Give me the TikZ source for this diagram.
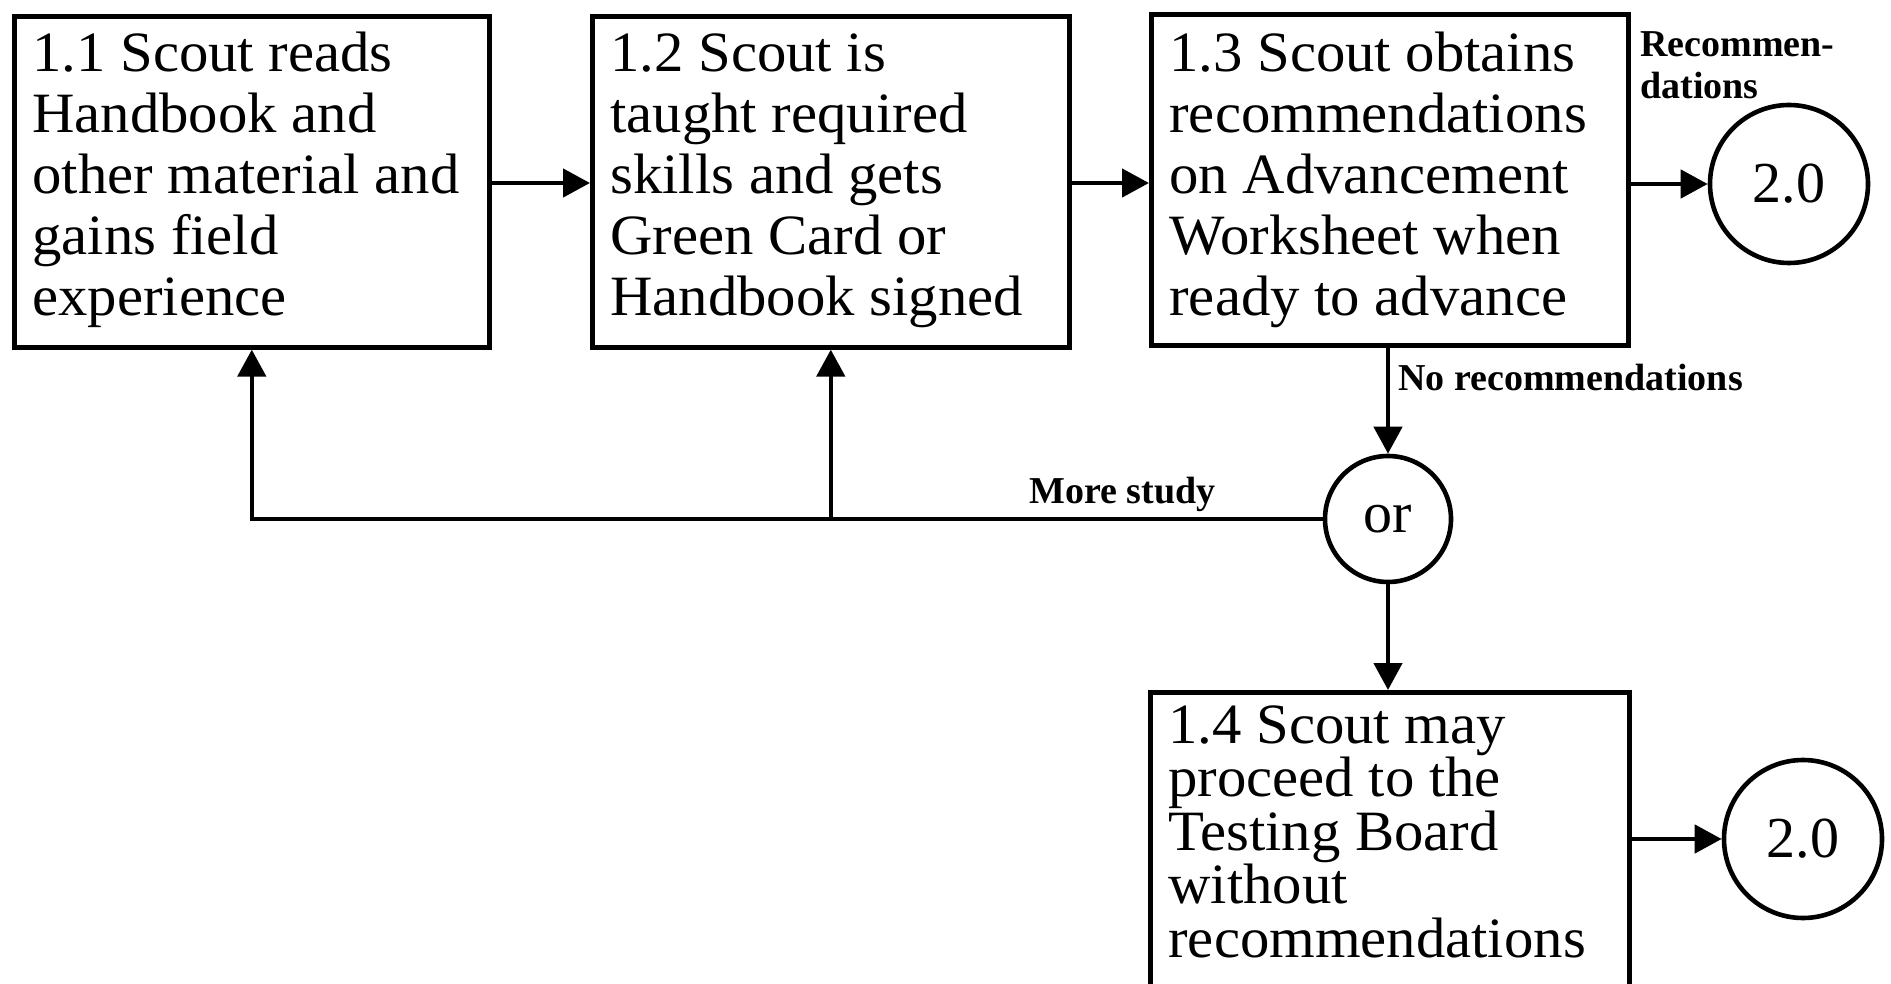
\documentclass[tikz,border=0pt]{standalone}
\usepackage{fontspec}
\setmainfont{Liberation Serif}
\newfontfamily\boxfont[FakeStretch=1.03]{Liberation Serif}
\usetikzlibrary{arrows.meta}
\tikzset{
  box/.style={draw, line width=2.3pt, inner sep=0pt, anchor=north west},
  bubble/.style={draw, circle, line width=2.3pt, inner sep=0pt, font=\fontsize{29}{30}\selectfont},
  boxtext/.style={inner sep=0pt, anchor=base west, font=\boxfont\fontsize{28.5}{30.4}\selectfont},
  lbl/.style={inner sep=0pt, anchor=base west, font=\bfseries\fontsize{19}{21}\selectfont},
  conn/.style={line width=2.3pt, line join=miter},
  arr/.style={conn, -{Triangle[length=13.5pt,width=14pt]}}
}
\begin{document}
\begin{tikzpicture}[x=0.5pt,y=-0.5pt]
\useasboundingbox (0,0) rectangle (1891,984);
% boxes
\node[box, minimum width=237.5pt, minimum height=165.5pt] (b11) at (12,14) {};
\node[box, minimum width=238.5pt, minimum height=165.5pt] (b12) at (590,14) {};
\node[box, minimum width=238.5pt, minimum height=165.5pt] (b13) at (1149,12) {};
\node[box, minimum width=239.5pt, minimum height=156pt] (b14) at (1148,690) {};
% box texts
\node[boxtext] (t11) at (32,72) {\parbox[t]{12cm}{1.1 Scout reads\\Handbook and\\other material and\\gains field\\experience}};
\node[boxtext] (t12) at (610,72) {\parbox[t]{12cm}{1.2 Scout is\\taught required\\skills and gets\\Green Card or\\Handbook signed}};
\node[boxtext] (t13) at (1169,72) {\parbox[t]{12cm}{1.3 Scout obtains\\recommendations\\on Advancement\\Worksheet when\\ready to advance}};
\node[boxtext, font=\boxfont\fontsize{28.5}{26.75}\selectfont] (t14) at (1168,743) {\parbox[t]{12cm}{1.4 Scout may\\proceed to the\\Testing Board\\without\\recommendations}};
% circles
\node[bubble, minimum size=79pt] (c1) at (1789,184) {2.0};
\node[bubble, minimum size=79pt] (c2) at (1803,839) {2.0};
\node[bubble, minimum size=63pt] (or) at (1388,519) {\raisebox{-2pt}{or}};
% helper coordinates
\coordinate (ya) at (0,183);
% connectors
\draw[arr] (b11.east |- ya) -- (b12.west |- ya);
\draw[arr] (b12.east |- ya) -- (b13.west |- ya);
\draw[arr] (b13.east |- c1) -- (c1.west);
\draw[arr] (b13.south -| or) -- (or.north);
\draw[arr] (or.south) -- (b14.north -| or);
\draw[arr] (b14.east |- c2) -- (c2.west);
\draw[arr] (or.west) -| (b11.south);
\draw[arr] (or.west -| b12.south) -- (b12.south);
% labels
\node[lbl] (lrec) at (1640,57) {\parbox[t]{5cm}{Recommen-\\dations}};
\node[lbl] (lno) at (1398,390) {No recommendations};
\node[lbl] (lmore) at (1029,503) {More study};
\end{tikzpicture}
\end{document}
